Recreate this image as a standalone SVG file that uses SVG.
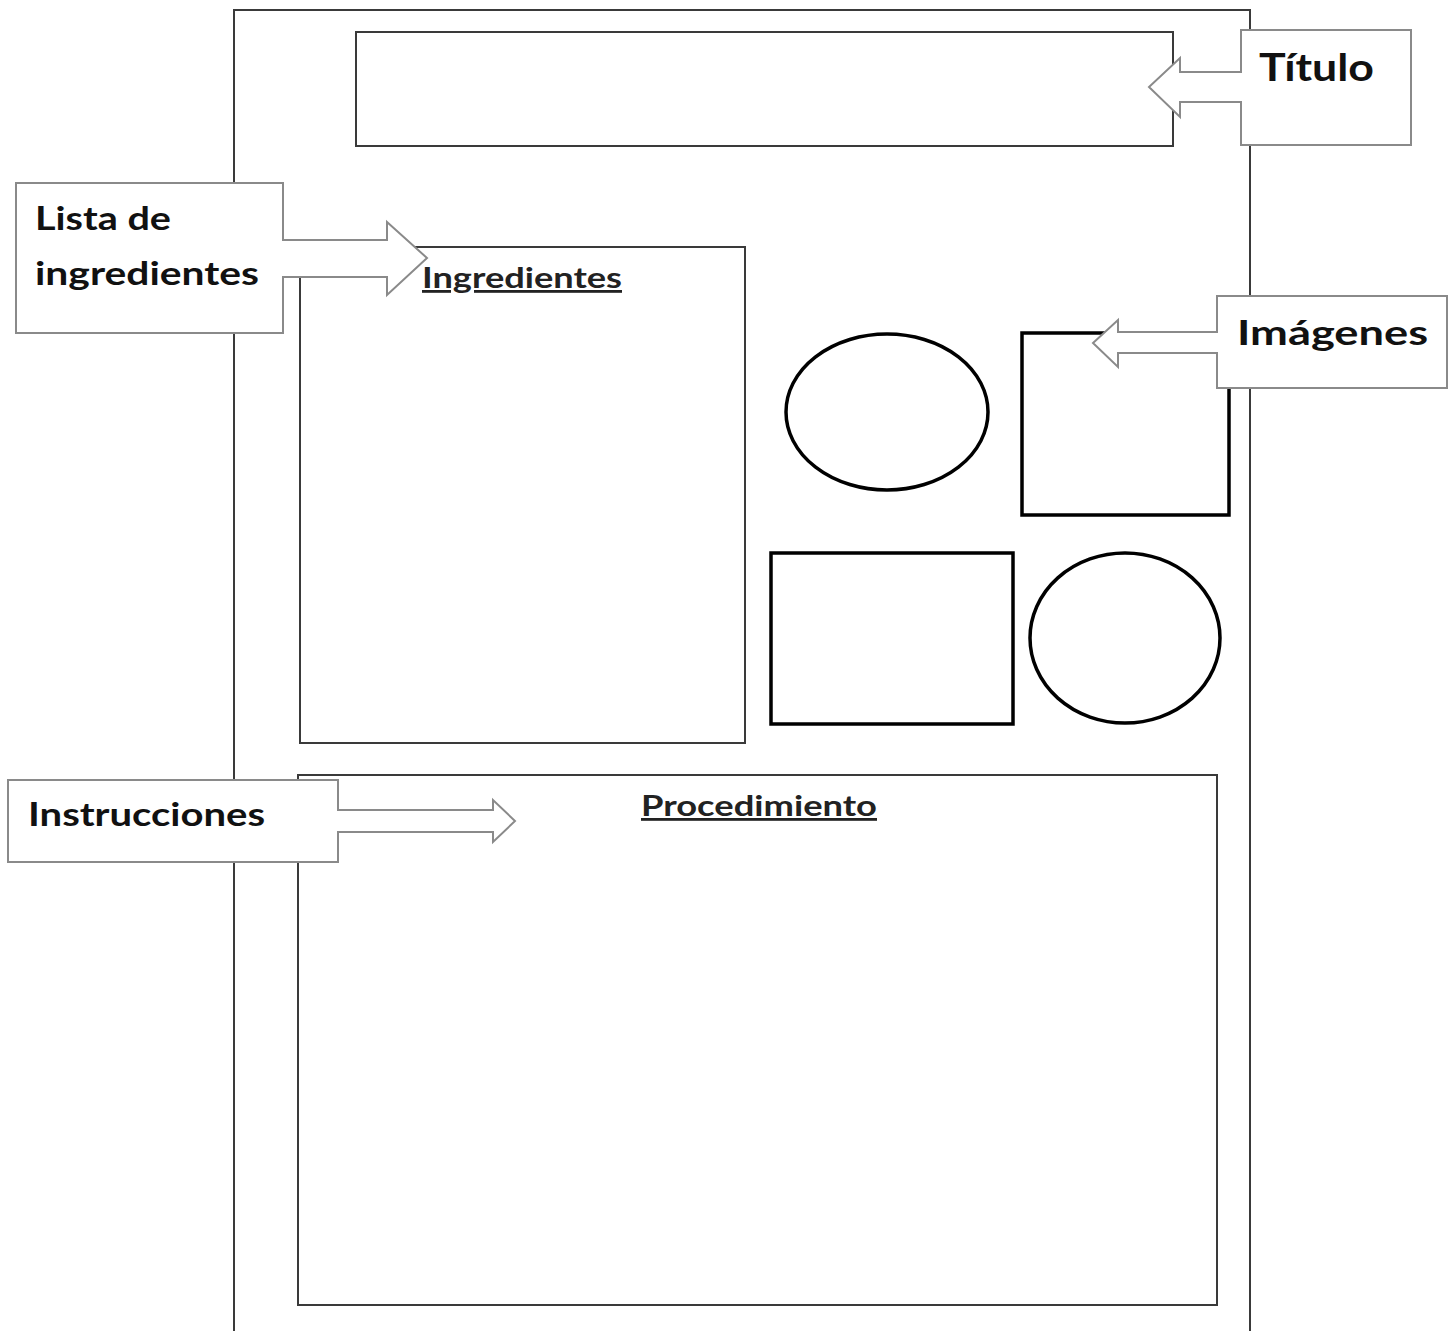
<svg xmlns="http://www.w3.org/2000/svg" width="1455" height="1331" viewBox="0 0 1455 1331">
<style>
.frame{fill:#fff;stroke:#3a3a3a;stroke-width:2}
.img{fill:#fff;stroke:#000;stroke-width:3.5}
.callout{fill:#fff;stroke:#8a8a8a;stroke-width:2}
.lbl{font-family:Lato,"Open Sans","Liberation Sans",sans-serif;font-weight:bold;fill:#111}
.head{font-family:Lato,"Open Sans","Liberation Sans",sans-serif;font-weight:bold;fill:#222;text-decoration:underline}
</style>
<rect width="1455" height="1331" fill="#fff"/>
<g id="page"><path class="frame" d="M234,1340 V10 H1250 V1340"/></g>
<g id="title-box"><rect class="frame" x="356" y="32" width="817" height="114"/></g>
<g id="ingredientes-box"><rect class="frame" x="300" y="247" width="445" height="496"/>
<text class="head" x="422" y="288" font-size="28" textLength="200" lengthAdjust="spacingAndGlyphs">Ingredientes</text></g>
<g id="procedimiento-box"><rect class="frame" x="298" y="775" width="919" height="530"/>
<text class="head" x="641" y="816" font-size="28" textLength="236" lengthAdjust="spacingAndGlyphs">Procedimiento</text></g>
<g id="image-ellipse-1"><ellipse class="img" cx="887" cy="412" rx="101" ry="78"/></g>
<g id="image-square"><rect class="img" x="1022" y="333" width="207" height="182"/></g>
<g id="image-rect"><rect class="img" x="771" y="553" width="242" height="171"/></g>
<g id="image-ellipse-2"><ellipse class="img" cx="1125" cy="638" rx="95" ry="85"/></g>
<g id="connectors">
<path id="callout-titulo" class="callout" d="M1241,30 H1411 V145 H1241 V102 H1180 V117 L1149,87 L1180,58 V72 H1241 Z"/>
<path id="callout-lista" class="callout" d="M16,183 H283 V240 H387 V222 L427,258 L387,295 V277 H283 V333 H16 Z"/>
<path id="callout-imagenes" class="callout" d="M1217,296 H1447 V388 H1217 V353 H1118 V367 L1093,343 L1118,320 V332 H1217 Z"/>
<path id="callout-instrucciones" class="callout" d="M8,780 H338 V810 H493 V800 L515,821 L493,842 V832 H338 V862 H8 Z"/>
</g>
<g id="labels">
<text class="lbl" x="1259" y="81" font-size="38" textLength="115" lengthAdjust="spacingAndGlyphs">Título</text>
<text class="lbl" x="35" y="230" font-size="32" textLength="136" lengthAdjust="spacingAndGlyphs">Lista de</text>
<text class="lbl" x="35" y="285" font-size="32" textLength="224" lengthAdjust="spacingAndGlyphs">ingredientes</text>
<text class="lbl" x="1237" y="345" font-size="35" textLength="191" lengthAdjust="spacingAndGlyphs">Imágenes</text>
<text class="lbl" x="28" y="826" font-size="33" textLength="237" lengthAdjust="spacingAndGlyphs">Instrucciones</text>
</g>
</svg>
